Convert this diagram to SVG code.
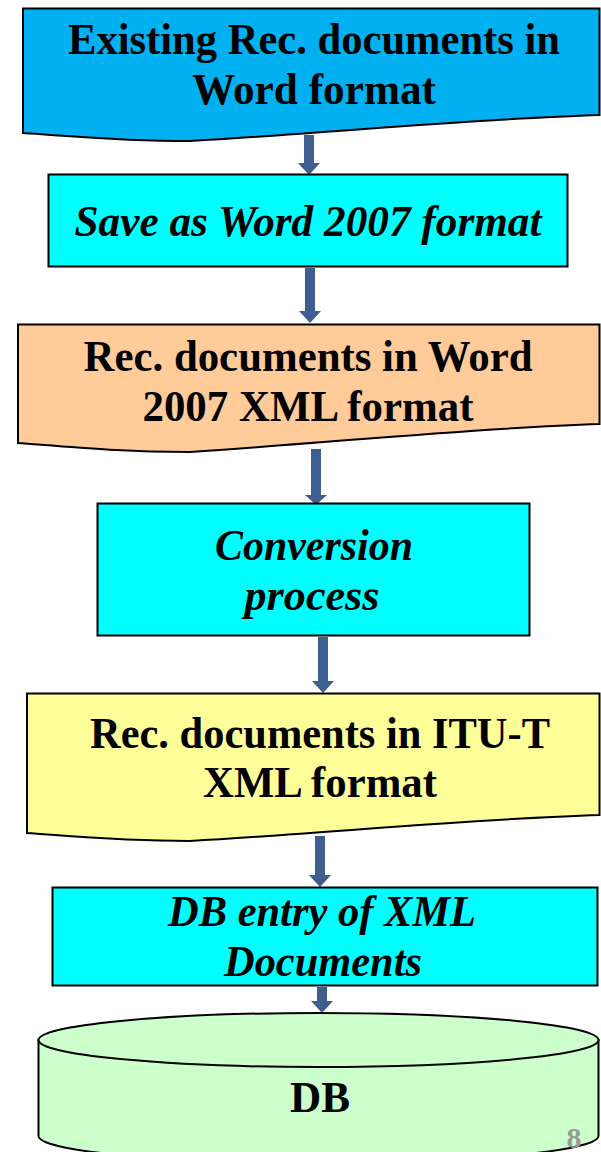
<svg xmlns="http://www.w3.org/2000/svg" width="601" height="1152" viewBox="0 0 601 1152">
<style>
.sh{stroke:#000;stroke-width:2;stroke-linejoin:miter}
.t{font-family:"Liberation Serif","Times New Roman",serif;font-weight:bold;font-size:45px;fill:#000;text-anchor:middle}
.i{font-style:italic}
.ar{fill:#3D5E8E}
</style>
<rect width="601" height="1152" fill="#fff"/>
<g id="connectors">
<path class="ar" d="M304,135 H314 V163 H320 L309,175 L298,163 H304 Z"/>
<path class="ar" d="M305,268 H315 V311 H321 L310,323 L299,311 H305 Z"/>
<path class="ar" d="M311,449 H321 V495 H327 L316,505 L305,495 H311 Z"/>
<path class="ar" d="M318,637 H328 V681 H334 L323,693 L312,681 H318 Z"/>
<path class="ar" d="M315,836 H325 V875 H331 L320,887 L309,875 H315 Z"/>
<path class="ar" d="M317,987 H327 V1001 H333 L322,1013 L311,1001 H317 Z"/>
</g>
<g id="n1">
<path class="sh" fill="#00B0F0" d="M23,8.5 H599.5 V115 C470,119 330,133 190,141 C120,141 70,136 23,133 Z"/>
<text class="t" x="314" y="54" textLength="492" lengthAdjust="spacingAndGlyphs">Existing Rec. documents in</text>
<text class="t" x="314" y="104" textLength="244" lengthAdjust="spacingAndGlyphs">Word format</text>
</g>
<g id="n2">
<rect class="sh" fill="#00FFFF" x="48.5" y="174.5" width="519" height="92"/>
<text class="t i" x="308" y="236" textLength="467" lengthAdjust="spacingAndGlyphs">Save as Word 2007 format</text>
</g>
<g id="n3">
<path class="sh" fill="#FFCC99" d="M18,324.5 H599.5 V424 C470,428 330,443 190,452 C120,452 70,447 18,443 Z"/>
<text class="t" x="308" y="371" textLength="449" lengthAdjust="spacingAndGlyphs">Rec. documents in Word</text>
<text class="t" x="308" y="421" textLength="331" lengthAdjust="spacingAndGlyphs">2007 XML format</text>
</g>
<g id="n4">
<rect class="sh" fill="#00FFFF" x="97.5" y="503.5" width="432" height="132"/>
<text class="t i" x="314" y="560" textLength="198" lengthAdjust="spacingAndGlyphs">Conversion</text>
<text class="t i" x="312" y="610" textLength="135" lengthAdjust="spacingAndGlyphs">process</text>
</g>
<g id="n5">
<path class="sh" fill="#FFFF99" d="M27,693.5 H599.5 V815 C470,819 330,833 190,841 C120,841 70,836 27,833 Z"/>
<text class="t" x="320" y="748" textLength="460" lengthAdjust="spacingAndGlyphs">Rec. documents in ITU-T</text>
<text class="t" x="320" y="797" textLength="234" lengthAdjust="spacingAndGlyphs">XML format</text>
</g>
<g id="n6">
<rect class="sh" fill="#00FFFF" x="52.5" y="887.5" width="545" height="98"/>
<text class="t i" x="322" y="926" textLength="308" lengthAdjust="spacingAndGlyphs">DB entry of XML</text>
<text class="t i" x="323" y="976" textLength="198" lengthAdjust="spacingAndGlyphs">Documents</text>
</g>
<g id="db">
<path class="sh" fill="#CCFFCC" d="M38.5,1040 V1136 A280,27 0 0 0 598.5,1136 V1040 Z"/>
<ellipse class="sh" fill="#CCFFCC" cx="318.5" cy="1040" rx="280" ry="27"/>
<text class="t" x="320" y="1112" textLength="60" lengthAdjust="spacingAndGlyphs">DB</text>
</g>
<text x="574" y="1148" font-family="Liberation Serif, serif" font-weight="bold" font-size="30" fill="#999" text-anchor="middle">8</text>
</svg>
